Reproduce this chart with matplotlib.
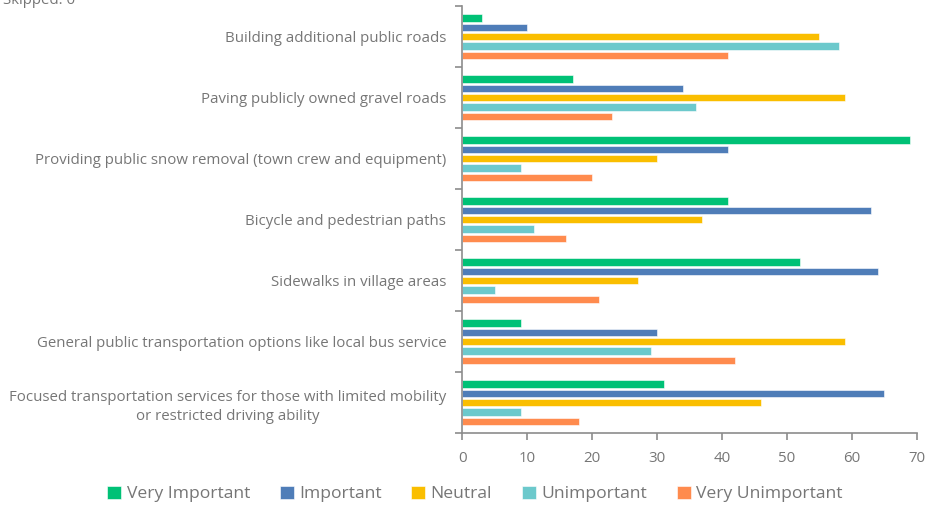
import matplotlib
matplotlib.use("Agg")
import matplotlib.pyplot as plt
import numpy as np

categories = [
    "Building additional public roads",
    "Paving publicly owned gravel roads",
    "Providing public snow removal (town crew and equipment)",
    "Bicycle and pedestrian paths",
    "Sidewalks in village areas",
    "General public transportation options like local bus service",
    "Focused transportation services for those with limited mobility\nor restricted driving ability",
]
series_names = ["Very Important", "Important", "Neutral", "Unimportant", "Very Unimportant"]
very_important = [3, 17, 69, 41, 52, 9, 31]
important = [10, 34, 41, 63, 64, 30, 65]
neutral = [55, 59, 30, 37, 27, 59, 46]
unimportant = [58, 36, 9, 11, 5, 29, 9]
very_unimportant = [41, 23, 20, 16, 21, 42, 18]
x_ticks = [0, 10, 20, 30, 40, 50, 60, 70]

colors = ["#00C176", "#4F7DB8", "#FABE00", "#6CC9CC", "#FF8B4E"]
text_gray = "#767676"
axis_gray = "#8c8c8c"

plt.rcParams["font.family"] = ["Open Sans", "DejaVu Sans"]

fig = plt.figure(figsize=(9.29, 5.07), dpi=100)
ax = fig.add_axes([462.3 / 929, 1 - 433.3 / 507, (916.7 - 462.3) / 929, (433.3 - 6) / 507])

values = [very_important, important, neutral, unimportant, very_unimportant]
n = len(categories)
y = np.arange(n)
slot = 0.153
bar_h = 0.12
for k, (name, vals) in enumerate(zip(series_names, values)):
    offset = (k - 2) * slot
    ax.barh(y + offset, vals, height=bar_h, color=colors[k], label=name,
            edgecolor="white", linewidth=0.4)

ax.set_ylim(n - 0.5, -0.5)
ax.set_xlim(0, 70)
ax.set_xticks(x_ticks)
ax.set_yticks(y)
ax.set_yticklabels(categories, ha="right", multialignment="center", linespacing=1.4)
ax.set_yticks(np.arange(n + 1) - 0.5, minor=True)
ax.tick_params(axis="y", which="major", length=0, pad=11.5, labelsize=10.8, labelcolor=text_gray)
ax.tick_params(axis="y", which="minor", length=5, width=1.2, color=axis_gray, direction="out")
ax.tick_params(axis="x", which="major", length=5, width=1.2, color=axis_gray, direction="out",
               labelsize=10.8, labelcolor=text_gray, pad=8)
for s in ["top", "right"]:
    ax.spines[s].set_visible(False)
for s in ["left", "bottom"]:
    ax.spines[s].set_color(axis_gray)
    ax.spines[s].set_linewidth(1.2)

fig.text(0.003, 1 - 4 / 507, "Skipped: 0", ha="left", va="baseline", fontsize=10.8, color=text_gray)

leg = fig.legend(loc="center", bbox_to_anchor=(475 / 929, 1 - 494 / 507), ncol=5, frameon=False,
                 fontsize=12.6, handlelength=0.8, handleheight=0.8, handletextpad=0.3,
                 columnspacing=1.7, labelcolor=text_gray)

fig.savefig("out.png", dpi=100)
